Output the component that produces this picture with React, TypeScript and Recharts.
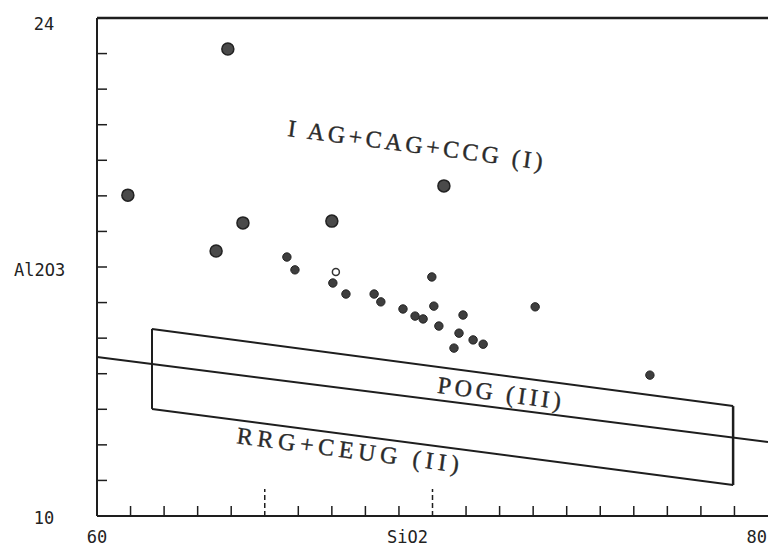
import { ScatterChart, Scatter, XAxis, YAxis, ReferenceLine } from "recharts";

// axis ticks
const siTicks = [60, 61, 62, 63, 64, 65, 66, 67, 68, 69, 70, 71, 72, 73, 74, 75, 76, 77, 78, 79, 80];
const alTicks = [10, 11, 12, 13, 14, 15, 16, 17, 18, 19, 20, 21, 22, 23, 24];
const siLabels: Record<number, string> = { 60: "60", 80: "80" };
const alLabels: Record<number, string> = { 24: "24", 10: "10" };

// samples, large dots
const bigSi = [63.9, 60.92, 64.35, 63.55, 67.0, 70.34];
const bigAl = [23.13, 19.02, 18.24, 17.45, 18.29, 19.28];

// samples, small dots
const smallSi = [65.66, 65.9, 67.03, 67.42, 68.26, 68.46, 69.12, 69.48, 69.72, 69.98, 70.04, 70.19, 70.91, 70.79, 70.64, 71.21, 71.51, 73.06, 76.48];
const smallAl = [17.28, 16.92, 16.55, 16.24, 16.24, 16.02, 15.82, 15.62, 15.54, 16.72, 15.9, 15.34, 15.65, 15.14, 14.72, 14.95, 14.83, 15.88, 13.96];

// open circle
const openSi = [67.12];
const openAl = [16.86];

// POG box and the I / II divider
const boxSi = [61.64, 78.96];
const boxTop = [15.26, 13.09];
const boxBottom = [13.01, 10.87];
const divSi = [60, 80];
const divAl = [14.47, 12.08];

// field names
const fieldNames = ["I AG+CAG+CCG (I)", "POG (III)", "RRG+CEUG (II)"];
const fieldSi = [69.54, 72.05, 67.55];
const fieldAl = [20.43, 13.45, 11.85];

const zip = (xs: number[], ys: number[]) => xs.map((x, i) => ({ x, y: ys[i] }));
const bigData = zip(bigSi, bigAl);
const smallData = zip(smallSi, smallAl);
const openData = zip(openSi, openAl);
const fieldData = fieldNames.map((name, i) => ({ x: fieldSi[i], y: fieldAl[i], name }));

const INK = "#1e1e1e";
const tickFont = "'DejaVu Sans Mono', monospace";
const serif = "'Liberation Serif', 'DejaVu Serif', serif";
const spacing: Record<string, number> = { "I AG+CAG+CCG (I)": 3.5, "POG (III)": 3.8, "RRG+CEUG (II)": 4.8 };

function XTick(props: any) {
  const { x, y, payload } = props;
  const v = payload.value;
  const long = v === 65 || v === 70;
  return (
    <g>
      {v !== 60 && v !== 80 && (
        <line x1={x} y1={y} x2={x} y2={y - (long ? 27 : 10)} stroke={INK} strokeWidth={1.5} strokeDasharray={long ? "5 3" : undefined} />
      )}
      {siLabels[v] && (
        <text x={v === 80 ? x - 1 : x} y={y + 27} textAnchor={v === 80 ? "end" : "middle"} fontFamily={tickFont} fontSize={17} fill="#222">
          {siLabels[v]}
        </text>
      )}
    </g>
  );
}

function YTick(props: any) {
  const { x, y, payload } = props;
  const v = payload.value;
  return (
    <g>
      {v !== 24 && v !== 10 && <line x1={x} y1={y} x2={x + 10} y2={y} stroke={INK} strokeWidth={1.5} />}
      {alLabels[v] && (
        <text x={x - 53} y={y + (v === 24 ? 12 : 8)} textAnchor="middle" fontFamily={tickFont} fontSize={17} fill="#222">
          {alLabels[v]}
        </text>
      )}
    </g>
  );
}

function RightTick(props: any) {
  const { x, y } = props;
  return <line x1={x} y1={y} x2={x - 7} y2={y} stroke="#777" strokeWidth={1.5} strokeDasharray="2 2" />;
}

export default function App() {
  return (
    <div style={{ position: "absolute", left: 0, top: 0, background: "#fff" }}>
      <ScatterChart width={768} height={551} margin={{ top: 18, right: 0, bottom: 0, left: 0 }}>
        <XAxis
          type="number"
          dataKey="x"
          domain={[60, 80]}
          ticks={siTicks}
          interval={0}
          height={35}
          tickLine={false}
          tickSize={0}
          tickMargin={0}
          tick={<XTick />}
          axisLine={{ stroke: INK, strokeWidth: 2 }}
          allowDataOverflow
          label={{ value: "SiO2", position: "insideBottom", offset: 8, dx: -25, fontFamily: tickFont, fontSize: 17, fill: "#222" }}
        />
        <YAxis
          type="number"
          dataKey="y"
          domain={[10, 24]}
          ticks={alTicks}
          interval={0}
          width={97}
          tickLine={false}
          tickSize={0}
          tickMargin={0}
          tick={<YTick />}
          axisLine={{ stroke: INK, strokeWidth: 2 }}
          allowDataOverflow
          label={{ value: "Al2O3", position: "insideLeft", offset: 14, dy: 3, fontFamily: tickFont, fontSize: 17, fill: "#222" }}
        />
        <YAxis
          yAxisId="right"
          orientation="right"
          type="number"
          domain={[10, 24]}
          ticks={alTicks}
          interval={0}
          width={0}
          tickLine={false}
          tickSize={0}
          tickMargin={0}
          axisLine={false}
          tick={<RightTick />}
        />
        <ReferenceLine segment={[{ x: 60, y: 24 }, { x: 80, y: 24 }]} stroke={INK} strokeWidth={2.5} ifOverflow="visible" />
        <ReferenceLine segment={zip(divSi, divAl)} stroke={INK} strokeWidth={2} ifOverflow="visible" />
        <ReferenceLine segment={zip(boxSi, boxTop)} stroke={INK} strokeWidth={2} />
        <ReferenceLine segment={zip(boxSi, boxBottom)} stroke={INK} strokeWidth={2} />
        <ReferenceLine segment={[{ x: boxSi[0], y: boxTop[0] }, { x: boxSi[0], y: boxBottom[0] }]} stroke={INK} strokeWidth={2} />
        <ReferenceLine segment={[{ x: boxSi[1], y: boxTop[1] }, { x: boxSi[1], y: boxBottom[1] }]} stroke={INK} strokeWidth={2.5} />
        <Scatter
          data={bigData}
          isAnimationActive={false}
          shape={(p: any) => <circle cx={p.cx} cy={p.cy} r={6} fill="#4a4a4a" stroke="#222" strokeWidth={1.5} />}
        />
        <Scatter
          data={smallData}
          isAnimationActive={false}
          shape={(p: any) => <circle cx={p.cx} cy={p.cy} r={4.2} fill="#3e3e3e" stroke="#222" strokeWidth={1} />}
        />
        <Scatter
          data={openData}
          isAnimationActive={false}
          shape={(p: any) => <circle cx={p.cx} cy={p.cy} r={3.5} fill="none" stroke="#333" strokeWidth={1.5} />}
        />
        <Scatter
          data={fieldData}
          isAnimationActive={false}
          shape={(p: any) => (
            <text
              x={p.cx}
              y={p.cy}
              textAnchor="middle"
              dominantBaseline="central"
              transform={`rotate(7.5 ${p.cx} ${p.cy})`}
              fontFamily={serif}
              fontSize={24}
              letterSpacing={spacing[p.payload.name]}
              fill="#2a2a2a"
              stroke="#2a2a2a"
              strokeWidth={0.4}
            >
              {p.payload.name}
            </text>
          )}
        />
      </ScatterChart>
    </div>
  );
}
